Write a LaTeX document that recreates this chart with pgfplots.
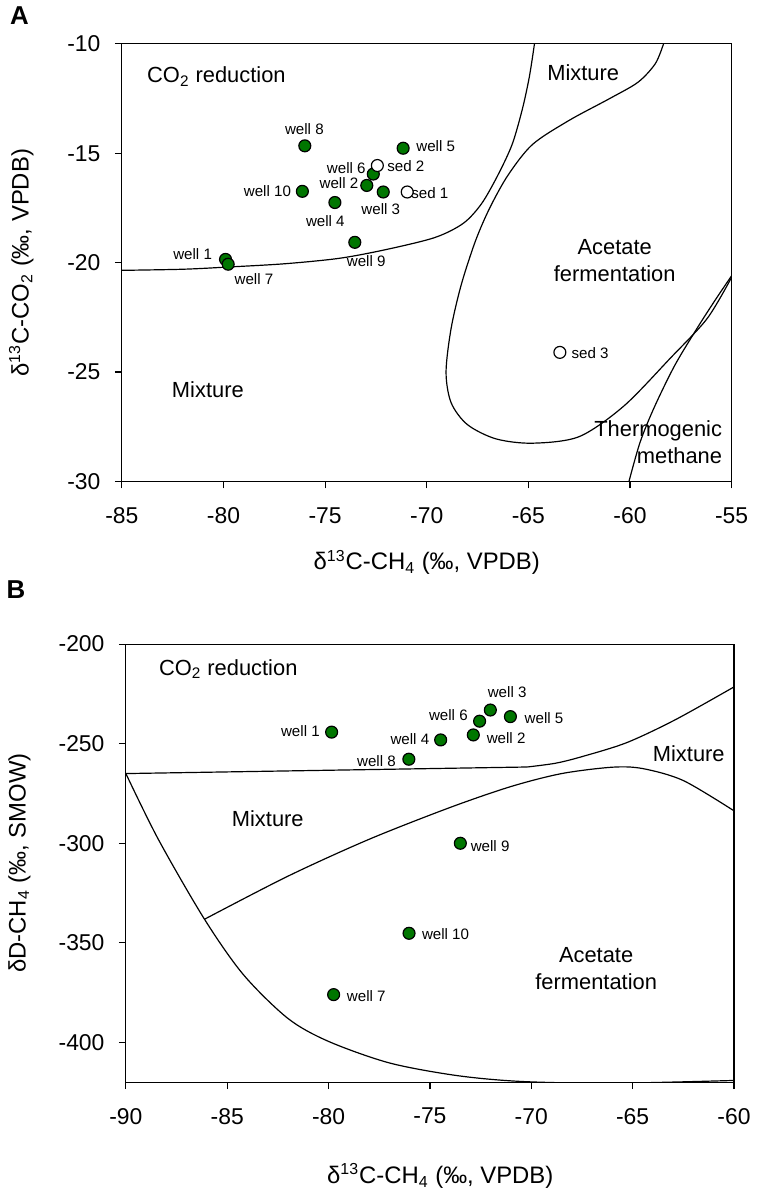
\documentclass[border=0pt]{standalone}
\usepackage{fontspec}
\setmainfont{Liberation Sans}
\usepackage{pgfplots}
\pgfplotsset{compat=1.18}
\definecolor{ptgreen}{RGB}{0,118,0}

\pgfplotsset{
  panel/.style={
    scale only axis,
    tick align=outside,
    xtick pos=left, ytick pos=left,
    major tick length=3.5pt,
    tick style={black, line width=0.6pt},
    axis line style={line width=0.6pt},
    ticklabel style={font=\fontsize{11.5}{13}\selectfont},
    xticklabel style={yshift=-6pt},
    yticklabel style={xshift=-3.75pt},
    /pgf/number format/assume math mode=true,
    label style={font=\fontsize{12}{14}\selectfont},
  },
  bound/.style={black, line width=0.6pt, smooth, no markers},
  well/.style={only marks, mark=*, mark size=3pt,
    mark options={fill=ptgreen, draw=black, line width=0.6pt}},
  sed/.style={only marks, mark=*, mark size=3pt,
    mark options={fill=white, draw=black, line width=0.6pt}},
}
\tikzset{
  wl/.style={font=\fontsize{7.6}{9}\selectfont, inner sep=0pt},
  reg/.style={font=\fontsize{11}{13.5}\selectfont, align=center, inner sep=0pt},
}

\begin{document}
\begin{tikzpicture}
\path (-62pt,-53.75pt) rectangle (315pt,543.75pt);

% panel A
\begin{axis}[panel,
  at={(-2pt,302pt)}, anchor=south west,
  width=306.5pt, height=220pt,
  xmin=-85, xmax=-55, ymin=-30, ymax=-10,
  xtick={-85,-80,...,-55}, ytick={-30,-25,...,-10},
  xlabel={δ\textsuperscript{13}C-CH\textsubscript{4} (‰, VPDB)},
  ylabel={δ\textsuperscript{13}C-CO\textsubscript{2} (‰, VPDB)},
  xlabel style={at={(axis description cs:0.5,-0.185)}, anchor=center},
  ylabel style={at={(axis description cs:-0.165,0.5)}, anchor=center},
]
\addplot[bound] coordinates {
  (-85,-20.35) (-82,-20.3) (-79.8,-20.2) (-77,-20.05) (-74.3,-19.8)
  (-72,-19.4) (-69.6,-18.85) (-68.2,-18.2) (-67.3,-17.3) (-66.5,-16.0)
  (-65.8,-14.6) (-65.3,-13.0) (-64.95,-11.5) (-64.7,-10)};
\addplot[bound] coordinates {
  (-58.35,-10) (-58.75,-10.9) (-59.6,-11.75) (-61.0,-12.5) (-63.0,-13.5)
  (-64.8,-14.6) (-66.0,-16.0) (-66.9,-17.5) (-67.6,-19.0) (-68.3,-21.0)
  (-68.8,-23.0) (-69.05,-25.0) (-68.8,-26.4) (-68.0,-27.4) (-66.6,-28.05)
  (-64.8,-28.25) (-62.5,-27.95) (-60.3,-26.55) (-58.0,-24.35) (-56.2,-22.55)
  (-55,-20.67)};
\addplot[bound] coordinates {
  (-60.05,-30) (-59.5,-28.2) (-58.8,-26.6) (-57.8,-24.7) (-56.7,-23.0)
  (-55.8,-21.7) (-55,-20.6)};

\addplot[well] coordinates {
  (-79.9,-19.85) (-72.95,-16.47) (-72.14,-16.77) (-74.52,-17.25)
  (-71.16,-14.77) (-72.63,-15.95) (-79.77,-20.07) (-76.0,-14.66)
  (-73.54,-19.07) (-76.12,-16.74)};
\addplot[sed] coordinates {(-70.96,-16.77) (-72.43,-15.56) (-63.45,-24.1)};

\node[wl] at (axis cs:-76.02,-13.91) {well 8};
\node[wl] at (axis cs:-69.56,-14.65) {well 5};
\node[wl] at (axis cs:-73.96,-15.68) {well 6};
\node[wl] at (axis cs:-71.03,-15.57) {sed 2};
\node[wl] at (axis cs:-74.32,-16.36) {well 2};
\node[wl] at (axis cs:-77.84,-16.71) {well 10};
\node[wl] at (axis cs:-69.85,-16.82) {sed 1};
\node[wl] at (axis cs:-72.26,-17.57) {well 3};
\node[wl] at (axis cs:-74.99,-18.10) {well 4};
\node[wl] at (axis cs:-72.98,-19.95) {well 9};
\node[wl] at (axis cs:-81.52,-19.59) {well 1};
\node[wl] at (axis cs:-78.50,-20.75) {well 7};
\node[wl] at (axis cs:-61.96,-24.12) {sed 3};

\node[reg] at (axis cs:-80.35,-11.5) {CO\textsubscript{2} reduction};
\node[reg] at (axis cs:-62.3,-11.3) {Mixture};
\node[reg] at (axis cs:-60.75,-19.9) {Acetate\\fermentation};
\node[reg] at (axis cs:-80.77,-25.8) {Mixture};
\node[reg, align=right, anchor=east] at (axis cs:-55.45,-28.2) {Thermogenic\\methane};
\end{axis}

% panel B
\begin{axis}[panel,
  at={(0pt,0pt)}, anchor=south west,
  width=305.7pt, height=220.25pt,
  xmin=-90, xmax=-60, ymin=-420, ymax=-200,
  xtick={-90,-85,...,-60}, ytick={-400,-350,...,-200},
  xlabel={δ\textsuperscript{13}C-CH\textsubscript{4} (‰, VPDB)},
  ylabel={δD-CH\textsubscript{4} (‰, SMOW)},
  xlabel style={at={(axis description cs:0.517,-0.214)}, anchor=center},
  ylabel style={at={(axis description cs:-0.175,0.5)}, anchor=center},
]
\addplot[black, line width=0.6pt] coordinates {(-90,-265) (-70.2,-261.7)};
\addplot[bound] coordinates {
  (-70.2,-261.7) (-68.8,-259.8) (-67.5,-256.5) (-65.3,-249.5)
  (-62.9,-238) (-60,-221.5)};
\addplot[bound] coordinates {
  (-86.13,-338.2) (-82,-316.5) (-78,-298) (-74,-282) (-71,-271.5)
  (-68.5,-265) (-66,-261.8) (-64.5,-262.5) (-62.5,-268.5) (-60,-283.7)};
\addplot[bound] coordinates {
  (-90,-265) (-88.4,-298) (-86.13,-338) (-84.2,-366) (-82,-388)
  (-80,-399.5) (-77,-410.3) (-73.7,-416.6) (-70.5,-419.6) (-66,-420.5)
  (-60,-419.1)};

\addplot[well] coordinates {
  (-79.85,-244.2) (-72.86,-245.6) (-72.02,-233.1) (-74.47,-248.1)
  (-71.03,-236.4) (-72.55,-238.7) (-79.75,-376) (-76.04,-257.8)
  (-73.5,-300) (-76.03,-345.2)};

\node[wl] at (axis cs:-81.39,-243.8) {well 1};
\node[wl] at (axis cs:-71.19,-224.0) {well 3};
\node[wl] at (axis cs:-74.09,-235.8) {well 6};
\node[wl] at (axis cs:-69.37,-236.9) {well 5};
\node[wl] at (axis cs:-75.99,-247.8) {well 4};
\node[wl] at (axis cs:-71.24,-247.2) {well 2};
\node[wl] at (axis cs:-77.64,-258.6) {well 8};
\node[wl] at (axis cs:-72.03,-301.4) {well 9};
\node[wl] at (axis cs:-74.23,-345.4) {well 10};
\node[wl] at (axis cs:-78.14,-376.6) {well 7};

\node[reg] at (axis cs:-84.95,-212.4) {CO\textsubscript{2} reduction};
\node[reg] at (axis cs:-62.23,-255) {Mixture};
\node[reg] at (axis cs:-83.0,-287.8) {Mixture};
\node[reg] at (axis cs:-66.8,-363) {Acetate\\fermentation};
\end{axis}

\node[font=\bfseries\fontsize{13}{15}\selectfont] at (-53.5pt,536.25pt) {A};
\node[font=\bfseries\fontsize{13}{15}\selectfont] at (-55.25pt,247.75pt) {B};
\end{tikzpicture}
\end{document}
